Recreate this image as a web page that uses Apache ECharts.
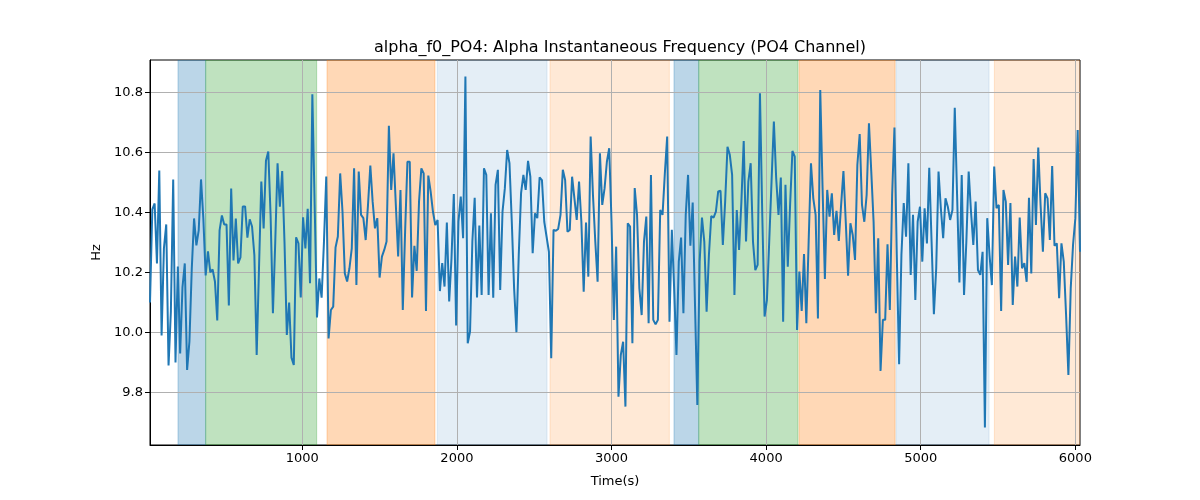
<!DOCTYPE html>
<html>
<head>
<meta charset="utf-8">
<script src="https://cdn.jsdelivr.net/npm/echarts@6/dist/echarts.min.js"></script>
<style>html,body{margin:0;padding:0;background:#fff}#c{width:1200px;height:500px}</style>
</head>
<body>
<div id="c"></div>
<script>
const chartTitle = 'alpha_f0_PO4: Alpha Instantaneous Frequency (PO4 Channel)';
const xName = 'Time(s)';
const yName = 'Hz';
const timeStart = 15;   // seconds, first sample
const timeStep = 15;    // seconds between samples
const xMin = 15, xMax = 6030;
const yMin = 9.625, yMax = 10.908;

const values = [
  10.10, 10.41, 10.43, 10.23, 10.54, 9.99, 10.28, 10.36, 9.89, 10.07, 10.51, 9.90, 10.22, 9.93, 10.15, 10.23, 9.875, 9.97, 10.21, 10.38, 10.29,
  10.34, 10.51, 10.38, 10.19, 10.27, 10.20, 10.21, 10.17, 10.04, 10.34, 10.39, 10.36, 10.36, 10.09, 10.48, 10.24, 10.38, 10.23, 10.25, 10.42, 10.42,
  10.316, 10.377, 10.353, 10.258, 9.925, 10.214, 10.503, 10.347, 10.572, 10.603, 10.39, 10.064, 10.30, 10.564, 10.419, 10.538, 10.30, 9.992, 10.10, 9.916, 9.892,
  10.317, 10.297, 10.117, 10.384, 10.28, 10.412, 10.164, 10.794, 10.425, 10.05, 10.18, 10.116, 10.30, 10.52, 9.98, 10.075, 10.086, 10.283, 10.32, 10.53,
  10.403, 10.197, 10.17, 10.214, 10.28, 10.547, 10.158, 10.536, 10.392, 10.381, 10.308, 10.425, 10.556, 10.436, 10.347, 10.381, 10.183, 10.253, 10.275, 10.303,
  10.689, 10.475, 10.597, 10.425, 10.253, 10.475, 10.075, 10.336, 10.569, 10.569, 10.117, 10.289, 10.205, 10.436, 10.547, 10.53, 10.072, 10.523, 10.47, 10.403,
  10.358, 10.375, 10.138, 10.231, 10.153, 10.366, 10.103, 10.247, 10.461, 10.023, 10.369, 10.453, 10.314, 10.853, 9.964, 10.003, 10.303, 10.449, 10.117, 10.356, 10.125,
  10.547, 10.525, 10.125, 10.397, 10.116, 10.492, 10.542, 10.142, 10.403, 10.48, 10.608, 10.564, 10.369, 10.147, 10.001, 10.258, 10.464, 10.525, 10.475, 10.572,
  10.519, 10.264, 10.397, 10.381, 10.517, 10.508, 10.369, 10.319, 10.269, 9.914, 10.342, 10.339, 10.345, 10.392, 10.542, 10.508, 10.336, 10.342, 10.519, 10.447, 10.375,
  10.503, 10.369, 10.136, 10.366, 10.186, 10.653, 10.458, 10.303, 10.169, 10.597, 10.425, 10.48, 10.569, 10.614, 10.369, 10.042, 10.286, 9.786, 9.925, 9.969,
  9.753, 10.364, 10.353, 9.964, 10.481, 10.392, 10.147, 10.058, 10.303, 10.386, 10.031, 10.525, 10.042, 10.027, 10.042, 10.408, 10.392, 10.531, 10.653, 10.036, 10.342,
  10.147, 9.925, 10.236, 10.316, 10.064, 10.392, 10.525, 10.289, 10.433, 10.092, 9.758, 10.236, 10.383, 10.303, 10.069, 10.258, 10.388, 10.383, 10.403, 10.47,
  10.472, 10.292, 10.436, 10.619, 10.592, 10.525, 10.125, 10.408, 10.275, 10.436, 10.638, 10.303, 10.503, 10.564, 10.303, 10.208, 10.225, 10.797, 10.392, 10.053, 10.108,
  10.303, 10.503, 10.703, 10.514, 10.392, 10.516, 10.036, 10.492, 10.219, 10.425, 10.605, 10.586, 10.008, 10.203, 10.072, 10.261, 10.031, 10.303, 10.564, 10.447,
  10.392, 10.047, 10.808, 10.481, 10.178, 10.475, 10.386, 10.464, 10.325, 10.405, 10.305, 10.425, 10.538, 10.369, 10.189, 10.364, 10.325, 10.242, 10.558, 10.661, 10.425,
  10.369, 10.458, 10.697, 10.536, 10.369, 10.064, 10.314, 9.872, 10.042, 10.042, 10.294, 10.075, 10.458, 10.683, 10.258, 9.894, 10.258, 10.431, 10.319, 10.564,
  10.192, 10.392, 10.108, 10.369, 10.419, 10.236, 10.414, 10.297, 10.549, 10.303, 10.061, 10.214, 10.536, 10.414, 10.314, 10.447, 10.419, 10.375, 10.408, 10.749, 10.458,
  10.167, 10.525, 10.125, 10.303, 10.536, 10.403, 10.292, 10.436, 10.208, 10.192, 10.269, 9.683, 10.381, 10.258, 10.158, 10.553, 10.414, 10.425, 10.072, 10.475,
  10.436, 10.225, 10.431, 10.092, 10.253, 10.153, 10.383, 10.214, 10.231, 10.169, 10.449, 10.197, 10.578, 10.358, 10.616, 10.425, 10.269,
  10.464, 10.447, 10.308, 10.555, 10.289, 10.297, 10.114, 10.297, 10.236, 10.058, 9.858, 10.147, 10.292, 10.381, 10.675, 10.269
];

// shaded segments (seconds) and their kind
const bandStart = [196, 375, 1160, 1873, 2602, 3404, 3564, 4213, 4840, 5476];
const bandEnd   = [375, 1093, 1858, 2583, 3374, 3564, 4206, 4834, 5442, 6030];
const bandKind  = ['blue', 'green', 'orange', 'lightblue', 'lightorange', 'blue', 'green', 'orange', 'lightblue', 'lightorange'];

const bandColors = {
  blue: 'rgba(31,119,180,0.3)',
  green: 'rgba(44,160,44,0.3)',
  orange: 'rgba(255,127,14,0.3)',
  lightblue: 'rgba(31,119,180,0.12)',
  lightorange: 'rgba(255,127,14,0.17)'
};

const times = values.map((_, i) => timeStart + timeStep * i);
const lineData = times.map((t, i) => [t, values[i]]);
const bandData = bandStart.map((s, i) => [s, bandEnd[i], i]);

const FF = 'DejaVu Sans';
const chart = echarts.init(document.getElementById('c'), null, {renderer: 'canvas'});
chart.setOption({
  animation: false,
  backgroundColor: '#ffffff',
  title: {
    text: chartTitle, left: 615, top: 35, textAlign: 'center',
    textStyle: {fontFamily: FF, fontSize: 16, fontWeight: 'normal', color: '#000'}
  },
  grid: {left: 150, right: 120, top: 60, bottom: 55, show: true, borderColor: '#000', borderWidth: 1, backgroundColor: 'transparent'},
  xAxis: {
    type: 'value', min: xMin, max: xMax, splitNumber: 6, z: 3,
    name: xName, nameLocation: 'middle', nameGap: 30,
    nameTextStyle: {fontFamily: FF, fontSize: 13, color: '#000'},
    axisLine: {show: true, onZero: false, lineStyle: {color: '#000', width: 1}},
    axisTick: {show: true, length: 5, lineStyle: {color: '#000'}},
    axisLabel: {fontFamily: FF, fontSize: 13, color: '#000', margin: 7, showMinLabel: false, showMaxLabel: false, formatter: v => String(v)},
    splitLine: {show: true, showMinLine: false, showMaxLine: false, lineStyle: {color: '#b0b0b0', width: 1}}
  },
  yAxis: {
    type: 'value', min: yMin, max: yMax, splitNumber: 6, z: 3,
    name: yName, nameLocation: 'middle', nameGap: 46, nameRotate: 90,
    nameTextStyle: {fontFamily: FF, fontSize: 13, color: '#000'},
    axisLine: {show: true, onZero: false, lineStyle: {color: '#000', width: 1}},
    axisTick: {show: true, length: 5, lineStyle: {color: '#000'}},
    axisLabel: {fontFamily: FF, fontSize: 13, color: '#000', margin: 7, showMinLabel: false, showMaxLabel: false, formatter: v => v.toFixed(1)},
    splitLine: {show: true, showMinLine: false, showMaxLine: false, lineStyle: {color: '#b0b0b0', width: 1}}
  },
  series: [
    {
      type: 'custom', z: 1, silent: true, clip: true,
      data: bandData,
      encode: {x: [0, 1]},
      renderItem: (params, api) => {
        const s = api.coord([api.value(0), yMin])[0];
        const e = api.coord([api.value(1), yMin])[0];
        const cs = params.coordSys;
        const c = bandColors[bandKind[api.value(2)]];
        return {type: 'rect', shape: {x: s, y: cs.y, width: e - s, height: cs.height},
                style: {fill: c, stroke: c, lineWidth: 1}};
      }
    },
    {
      type: 'line', z: 5, data: lineData, showSymbol: false, symbol: 'none', clip: true,
      lineStyle: {color: '#1f77b4', width: 2}
    }
  ]
});
</script>
</body>
</html>
